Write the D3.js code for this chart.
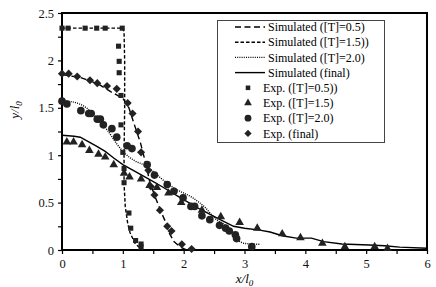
<!DOCTYPE html>
<html>
<head>
<meta charset="utf-8">
<script src="https://cdn.jsdelivr.net/npm/d3@7"></script>
<style>
  body { margin: 0; background: #fff; }
  svg { font-family: "Liberation Serif", "Times New Roman", serif; }
</style>
</head>
<body>
<svg id="chart" width="436" height="287"></svg>
<script>
// simulated profiles (x/l0, y/l0)
const simSquare = [[0,2.34],[1.0,2.34],[1.02,2.3],[1.03,2.0],[1.03,1.5],[1.02,1.0],[1.02,0.7],[1.04,0.46],[1.08,0.28],[1.12,0.18],[1.2,0.07],[1.3,0.01]];
const simDiamond = [[0,1.85],[0.3,1.82],[0.6,1.75],[0.8,1.67],[1.0,1.6],[1.1,1.5],[1.18,1.34],[1.29,1.13],[1.37,0.93],[1.45,0.7],[1.55,0.53],[1.63,0.4],[1.7,0.3],[1.77,0.17],[1.84,0.09],[1.95,0.03],[2.05,0.0]];
const simCircle = [[0,1.58],[0.1,1.57],[0.25,1.55],[0.4,1.5],[0.5,1.44],[0.6,1.37],[0.75,1.26],[0.9,1.12],[1.0,1.04],[1.2,0.94],[1.37,0.89],[1.53,0.81],[1.62,0.76],[1.85,0.65],[2.15,0.55],[2.35,0.45],[2.52,0.33],[2.7,0.25],[2.8,0.17],[2.9,0.1],[3.0,0.07],[3.25,0.06]];
const simTriangle = [[0,1.21],[0.2,1.2],[0.3,1.19],[0.44,1.14],[0.58,1.09],[0.71,1.04],[0.85,0.97],[1.0,0.9],[1.2,0.83],[1.45,0.74],[1.64,0.67],[1.95,0.55],[2.27,0.43],[2.6,0.32],[2.82,0.25],[3.0,0.23],[3.25,0.21],[3.42,0.19],[3.62,0.15],[3.85,0.125],[4.1,0.125],[4.3,0.088],[4.6,0.063],[5.05,0.053],[5.3,0.045],[5.55,0.03],[6.0,0.018]];

// experimental points
const expSquare = [[0,2.34],[0.1,2.34],[0.38,2.34],[0.57,2.34],[0.71,2.34],[0.99,2.34],[0.93,2.15],[0.94,1.99],[0.94,1.87],[0.97,1.63],[0.97,1.32],[1.0,1.03],[1.02,0.86],[1.02,0.71],[1.1,0.39],[1.13,0.23],[1.21,0.1],[1.3,0.063],[1.3,0.03]];
const expTriangle = [[0.08,1.14],[0.19,1.14],[0.33,1.11],[0.45,1.05],[0.6,1.01],[0.71,0.98],[0.85,0.9],[1.02,0.81],[1.11,0.77],[1.3,0.75],[1.44,0.68],[1.56,0.66],[1.75,0.6],[1.96,0.5],[2.3,0.42],[2.61,0.35],[2.92,0.29],[3.21,0.23],[3.62,0.17],[3.92,0.13],[4.28,0.07],[4.65,0.035],[5.14,0.035],[5.35,0.015]];
const expCircle = [[0,1.57],[0.08,1.54],[0.31,1.47],[0.44,1.44],[0.48,1.44],[0.58,1.38],[0.63,1.38],[0.68,1.32],[0.82,1.28],[0.9,1.19],[1.07,1.1],[1.15,1.07],[1.4,0.9],[1.52,0.79],[1.73,0.69],[1.84,0.62],[1.99,0.55],[2.12,0.46],[2.18,0.46],[2.3,0.36],[2.43,0.32],[2.59,0.26],[2.69,0.23],[2.75,0.2],[2.85,0.16],[2.87,0.12],[3.12,0.035]];
const expDiamond = [[0,1.86],[0.11,1.86],[0.25,1.83],[0.46,1.79],[0.58,1.76],[0.74,1.73],[0.9,1.7],[1.08,1.55],[1.16,1.44],[1.25,1.25],[1.3,1.03],[1.42,0.84],[1.46,0.67],[1.52,0.58],[1.61,0.42],[1.73,0.25],[1.8,0.2],[1.97,0.06],[2.13,0.01]];

const xTicks = [0, 1, 2, 3, 4, 5, 6];
const yTicks = [0, 0.5, 1, 1.5, 2, 2.5];

const legendLines = ["Simulated  ([T]=0.5)", "Simulated  ([T]=1.5))", "Simulated ([T]=2.0)", "Simulated (final)"];
const legendMarks = ["Exp.  ([T]=0.5))", "Exp.  ([T]=1.5)", "Exp.  ([T]=2.0)", "Exp. (final)"];

const svg = d3.select("#chart");
const box = { left: 62, right: 427, top: 13, bottom: 250 };
const ink = "#222";

const x = d3.scaleLinear().domain([0, 6]).range([box.left, box.right]);
const y = d3.scaleLinear().domain([0, 2.5]).range([box.bottom, box.top]);

// axes
const xAxis = svg.append("g").attr("transform", `translate(0,${box.bottom})`)
  .call(d3.axisBottom(x).tickValues(d3.range(0, 6.01, 0.5)).tickSize(4)
    .tickFormat(d => xTicks.includes(d) ? d : ""));
const yAxis = svg.append("g").attr("transform", `translate(${box.left},0)`)
  .call(d3.axisLeft(y).tickValues(d3.range(0, 2.51, 0.25)).tickSize(4)
    .tickFormat(d => yTicks.includes(d) ? d : ""));
[xAxis, yAxis].forEach(g => {
  g.select(".domain").remove();
  g.selectAll("line").attr("stroke", "#000").attr("stroke-width", 1.2);
  g.selectAll("text").attr("font-family", "Liberation Serif").attr("font-size", 12.5).attr("fill", "#111");
});
xAxis.selectAll("text").attr("dy", "0.85em");
yAxis.selectAll("text").attr("x", -8);

// frame
svg.append("rect").attr("x", box.left).attr("y", box.top)
  .attr("width", box.right - box.left).attr("height", box.bottom - box.top)
  .attr("fill", "none").attr("stroke", "#000").attr("stroke-width", 2);

// axis titles
svg.append("text").attr("x", x(3)).attr("y", 283).attr("text-anchor", "middle")
  .attr("font-size", 13).attr("font-style", "italic")
  .html('x/l<tspan dy="3" font-size="9">0</tspan>');
svg.append("text").attr("transform", "translate(19,110) rotate(-90)").attr("text-anchor", "middle")
  .attr("font-size", 13).attr("font-style", "italic")
  .html('y/l<tspan dy="3" font-size="9">0</tspan>');

const line = d3.line().x(d => x(d[0])).y(d => y(d[1])).curve(d3.curveMonotoneX);
const lineFree = d3.line().x(d => x(d[0])).y(d => y(d[1])).curve(d3.curveLinear);

const lineStyles = [
  { data: simDiamond, dash: "6,3.5", gen: lineFree },
  { data: simSquare, dash: "3.5,2", gen: lineFree },
  { data: simCircle, dash: "1,1.2", gen: line },
  { data: simTriangle, dash: null, gen: lineFree }
];

const plot = svg.append("g");
lineStyles.forEach(s => {
  plot.append("path").attr("d", s.gen(s.data)).attr("fill", "none")
    .attr("stroke", "#000").attr("stroke-width", 1.4)
    .attr("stroke-dasharray", s.dash);
});

const symbols = [
  { data: expSquare, type: d3.symbolSquare, size: 26 },
  { data: expTriangle, type: d3.symbolTriangle, size: 32 },
  { data: expCircle, type: d3.symbolCircle, size: 46 },
  { data: expDiamond, type: d3.symbolDiamond2, size: 42 }
];
symbols.forEach(s => {
  plot.selectAll(null).data(s.data).join("path")
    .attr("d", d3.symbol().type(s.type).size(s.size))
    .attr("transform", d => `translate(${x(d[0])},${y(d[1])})`)
    .attr("fill", ink);
});

// legend
const lg = svg.append("g");
lg.append("rect").attr("x", 217.5).attr("y", 20.5).attr("width", 167).attr("height", 122)
  .attr("fill", "#fff").attr("stroke", "#444").attr("stroke-width", 1);
const rowY = i => 27 + i * 15.2;
legendLines.forEach((t, i) => {
  lg.append("line").attr("x1", 235).attr("x2", 265).attr("y1", rowY(i)).attr("y2", rowY(i))
    .attr("stroke", "#000").attr("stroke-width", 1.4).attr("stroke-dasharray", lineStyles[i].dash);
  lg.append("text").attr("x", 268).attr("y", rowY(i)).attr("dy", "0.35em")
    .attr("font-size", 12).text(t);
});
legendMarks.forEach((t, i) => {
  const j = i + 4;
  lg.append("path").attr("d", d3.symbol().type(symbols[i].type).size(symbols[i].size * 0.8))
    .attr("transform", `translate(248,${rowY(j)})`).attr("fill", ink);
  lg.append("text").attr("x", 263).attr("y", rowY(j)).attr("dy", "0.35em")
    .attr("font-size", 12).text(t);
});
</script>
</body>
</html>
